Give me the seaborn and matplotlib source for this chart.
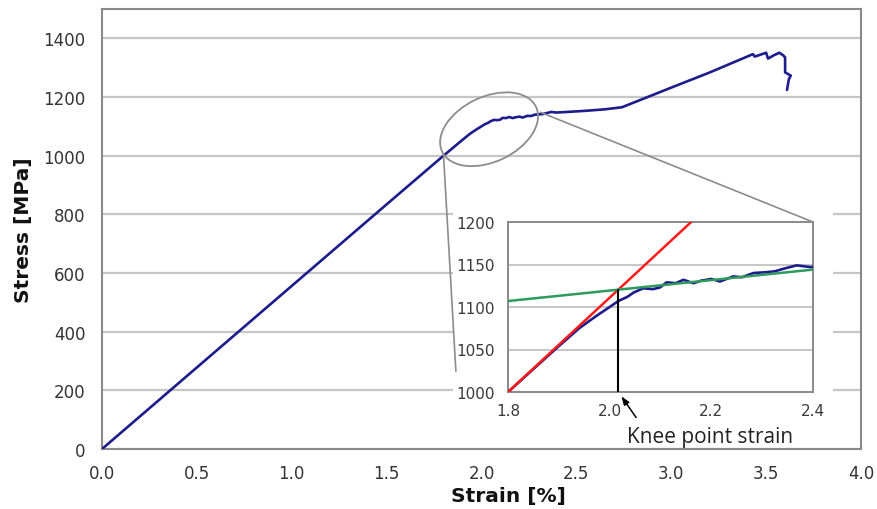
import numpy as np
import pandas as pd
import matplotlib
matplotlib.use("Agg")
import matplotlib.pyplot as plt
import seaborn as sns
from matplotlib.patches import Ellipse, Rectangle, ConnectionPatch
from matplotlib.transforms import IdentityTransform, ScaledTranslation

# ---------------- data ----------------
strain = [0.0, 0.5, 1.0, 1.5, 1.80, 1.85, 1.90, 1.94, 1.975, 2.00, 2.017, 2.035,
          2.047, 2.066, 2.085, 2.099, 2.112, 2.13, 2.145, 2.165, 2.18, 2.20, 2.217,
          2.243, 2.26, 2.283, 2.309, 2.325, 2.342, 2.368, 2.394, 2.45, 2.55, 2.65,
          2.74, 3.00, 3.20, 3.43, 3.44, 3.46, 3.50, 3.51, 3.54, 3.57, 3.59, 3.60,
          3.60, 3.63, 3.62, 3.61]
stress = [0, 278, 556, 834, 1000, 1027, 1054, 1075, 1090, 1100, 1107, 1112,
          1117, 1122, 1121, 1123, 1129, 1128, 1132, 1128, 1131, 1133, 1130,
          1136, 1135, 1140, 1141, 1142, 1145, 1149, 1147, 1149, 1153, 1158,
          1165, 1232, 1283, 1346, 1338, 1342, 1351, 1331, 1342, 1351, 1342, 1335,
          1284, 1273, 1261, 1224]

elastic_x = [1.80, 2.20]          # red: linear elastic fit
elastic_y = [1000, 1222]
plastic_x = [1.80, 2.40]          # green: post-yield fit
plastic_y = [1107, 1144]
knee_x = [2.017, 2.017]           # knee point marker
knee_y = [1000, 1120]

main_xticks = [0.0, 0.5, 1.0, 1.5, 2.0, 2.5, 3.0, 3.5, 4.0]
main_yticks = [0, 200, 400, 600, 800, 1000, 1200, 1400]
ins_xticks = [1.8, 2.0, 2.2, 2.4]
ins_yticks = [1000, 1050, 1100, 1150, 1200]

df = pd.DataFrame({"strain": strain, "stress": stress})

# ---------------- style ----------------
sns.set_style("white")
plt.rcParams["font.family"] = ["DejaVu Sans"]

W, H = 878, 510
fig = plt.figure(figsize=(W / 100, H / 100), dpi=100)

navy = "#1c1c8c"
grid_c = "#c6c6c6"
spine_c = "#8a8a8a"
tick_c = "#333333"

ax = fig.add_axes([102 / W, 1 - 450 / H, 759 / W, 440 / H])
sns.lineplot(data=df, x="strain", y="stress", ax=ax, sort=False, estimator=None,
             color=navy, lw=1.9, zorder=3)
ax.set_xlim(0, 4.0)
ax.set_ylim(0, 1500)
ax.set_xticks(main_xticks)
ax.set_xticklabels([f"{v:.1f}" for v in main_xticks])
ax.set_yticks(main_yticks)
ax.set_yticklabels([str(v) for v in main_yticks])
ax.yaxis.grid(True, color=grid_c, lw=1.6)
ax.set_axisbelow(True)
for s in ax.spines.values():
    s.set_color(spine_c)
    s.set_linewidth(1.5)
ax.tick_params(axis="both", direction="out", length=4, width=1.2, color=spine_c,
               labelsize=12, labelcolor=tick_c)
ax.tick_params(axis="y", pad=8)
ax.tick_params(axis="x", pad=7)
ax.set_xlabel("Strain [%]", fontsize=14.5, fontweight="bold", color="#111111")
ax.set_ylabel("Stress [MPa]", fontsize=14.5, fontweight="bold", color="#111111")
ax.xaxis.set_label_coords(0.536, -0.083)
ax.yaxis.set_label_coords(-0.091, 0.5)

# ellipse highlighting the knee region
ell = Ellipse((0, 0), 104, 65, angle=25.5, fill=False, edgecolor="#8c8c8c", lw=1.3,
              transform=IdentityTransform() + ScaledTranslation(2.04, 1090, ax.transData),
              zorder=4)
ax.add_patch(ell)

# white background behind inset
fig.add_artist(Rectangle((453 / W, 1 - 448 / H), 380 / W, 243 / H,
                         transform=fig.transFigure, facecolor="white",
                         edgecolor="none", zorder=0.5))

# ---------------- inset ----------------
axins = fig.add_axes([508 / W, 1 - 393 / H, 305 / W, 170 / H], zorder=1)
sns.lineplot(data=df, x="strain", y="stress", ax=axins, sort=False, estimator=None,
             color=navy, lw=1.9, zorder=3)
sns.lineplot(x=elastic_x, y=elastic_y, ax=axins, color="#ff1a1a", lw=1.8, zorder=4)
sns.lineplot(x=plastic_x, y=plastic_y, ax=axins, color="#2e9a5c", lw=1.8, zorder=4)
sns.lineplot(x=knee_x, y=knee_y, ax=axins, color="black", lw=1.5, zorder=5,
             sort=False, estimator=None)
axins.set_xlim(1.8, 2.4)
axins.set_ylim(1000, 1200)
axins.set_xticks(ins_xticks)
axins.set_xticklabels([f"{v:.1f}" for v in ins_xticks])
axins.set_yticks(ins_yticks)
axins.set_yticklabels([str(v) for v in ins_yticks])
axins.set_xlabel("")
axins.set_ylabel("")
axins.yaxis.grid(True, color=grid_c, lw=1.4)
axins.set_axisbelow(True)
for s in axins.spines.values():
    s.set_color(spine_c)
    s.set_linewidth(1.4)
axins.tick_params(axis="both", direction="out", color=spine_c, width=1.1,
                  labelsize=11, labelcolor="#3a3a3a")
axins.tick_params(axis="y", length=8, pad=1.5)
axins.tick_params(axis="x", length=5, pad=3)

# knee point label and arrow
axins.text(2.034, 948, "Knee point strain", ha="left", va="center", fontsize=15,
           family=["Open Sans", "DejaVu Sans"], color="#222222", clip_on=False)
axins.annotate("", xy=(2.023, 995), xytext=(2.052, 970),
               textcoords="data", annotation_clip=False,
               arrowprops=dict(arrowstyle="-|>,head_length=0.5,head_width=0.18",
                               color="black", lw=1.1, shrinkA=0, shrinkB=0))

# zoom connector lines
for xyA, xyB, cB in [((1.80, 1000), (1.865, 265), ax.transData),
                     ((2.31, 1148), (2.4, 1200), axins.transData)]:
    con = ConnectionPatch(xyA=xyA, xyB=xyB, coordsA=ax.transData, coordsB=cB,
                          color="#8c8c8c", lw=1.2, zorder=2)
    fig.add_artist(con)

fig.savefig("out.png", dpi=100)
